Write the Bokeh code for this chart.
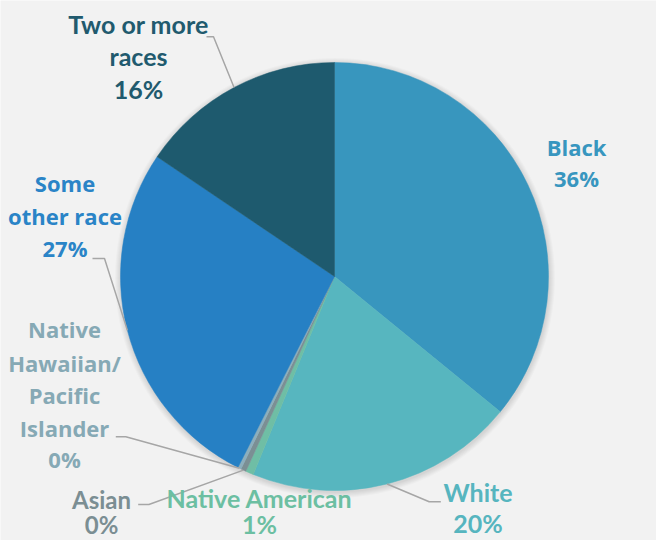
import math
import numpy as np
from bokeh.plotting import figure
from bokeh.models import Range1d, ColumnDataSource
from bokeh.core.properties import value
from bokeh.embed import file_html
from bokeh.resources import INLINE

# ---------------- data ----------------
categories = ["Black", "White", "Native American", "Asian",
              "Native Hawaiian/Pacific Islander", "Some other race",
              "Two or more races"]
shares = [35.9, 20.3, 0.6, 0.4, 0.25, 27.0, 15.55]
pct_labels = ["36%", "20%", "1%", "0%", "0%", "27%", "16%"]
name_lines = [["Black"], ["White"], ["Native American"], ["Asian"],
              ["Native", "Hawaiian/", "Pacific", "Islander"],
              ["Some", "other race"], ["Two or more", "races"]]

# ---------------- styles ----------------
slice_colors = ["#3896be", "#57b6bf", "#6fbea5", "#7b8f94",
                "#8cafbd", "#2680c4", "#1e5a6e"]
label_colors = ["#3896bf", "#56b5bf", "#6cbfa2", "#7b8e93",
                "#86a9b5", "#2a84c7", "#215a6e"]

# ---------------- layout (reference pixel space) ----------------
W, H, M = 656, 540, 8
PAGE_H = 556
CX, CY, R = 342.0, 284.0, 214.0
TEXT_SHIFT = 10.0   # compensation for rendered baseline offset

def Y(yref):
    return PAGE_H - yref

# label centre x, baselines of each line (name lines + pct line), font, size
label_layout = {
    "Black": (584, [164.3, 195.0], "Open Sans", "22px"),
    "White": (485.5, [509.3, 540.5], "Lato", "25px"),
    "Native American": (267, [515.0, 541.5], "Lato", "25px"),
    "Asian": (109, [517.0, 542.0], "Lato", "24px"),
    "Native Hawaiian/Pacific Islander": (72, [346.7, 380.0, 412.7, 445.0, 476.7], "Open Sans", "22px"),
    "Some other race": (72.5, [200.7, 233.0, 265.0], "Open Sans", "22px"),
    "Two or more races": (146, [41.7, 73.3, 106.7], "Lato", "25px"),
}
# leader: (label-side x, y, elbow x) -> then to slice edge midpoint
leader_layout = {
    "Two or more races": (214, 44.3, 221),
    "Some other race": (100, 266, 112),
    "Native Hawaiian/Pacific Islander": (123.3, 444.3, 133.3),
    "Asian": (145.7, 512, 156.4),
    "White": (448.3, 509.3, 436.7),
}

p = figure(width=W, height=H, output_backend="svg", toolbar_location=None,
           x_range=Range1d(M, M + W), y_range=Range1d(PAGE_H - M - H, PAGE_H - M),
           min_border=0, background_fill_color="#f2f2f2",
           border_fill_color="#f2f2f2", outline_line_color=None, tools="")
p.axis.visible = False
p.grid.visible = False

# soft shadow
for k in range(1, 7):
    p.circle(x=[CX + 0.5], y=[Y(CY + 1.5)], radius=R + k * 1.0,
             fill_color="black", fill_alpha=0.018, line_color=None)

# wedges
total = float(sum(shares))
cum = np.cumsum([0.0] + shares) / total * 360.0
theta_start = cum[:-1]
theta_end = cum[1:]
src = ColumnDataSource(dict(
    cat=categories,
    start=[math.radians(90 - t) for t in theta_start],
    end=[math.radians(90 - t) for t in theta_end],
    color=slice_colors,
))
p.wedge(x=CX, y=Y(CY), radius=R, start_angle="start", end_angle="end",
        direction="clock", fill_color="color", line_color="color",
        line_width=0.5, source=src)

# leader lines
for i, cat in enumerate(categories):
    if cat not in leader_layout:
        continue
    lx, ly, ex = leader_layout[cat]
    mid = math.radians((theta_start[i] + theta_end[i]) / 2.0)
    px = CX + R * math.sin(mid)
    py = CY - R * math.cos(mid)
    p.line(x=[lx, ex, px], y=[Y(ly), Y(ly), Y(py)],
           line_color="#a6a6a6", line_width=1.5)

# labels
groups = {}
for i, cat in enumerate(categories):
    x0, baselines, font, size = label_layout[cat]
    lines = name_lines[i] + [pct_labels[i]]
    g = groups.setdefault((font, size), dict(x=[], y=[], text=[], color=[]))
    for line, b in zip(lines, baselines):
        g["x"].append(x0)
        g["y"].append(Y(b - TEXT_SHIFT))
        g["text"].append(line)
        g["color"].append(label_colors[i])

for (font, size), g in groups.items():
    p.text(x="x", y="y", text="text", source=ColumnDataSource(g),
           text_font=value(font), text_font_size=value(size),
           text_font_style="bold", text_color="color",
           text_align="center", text_baseline="alphabetic")

open("out.html", "w").write(file_html(p, INLINE))
